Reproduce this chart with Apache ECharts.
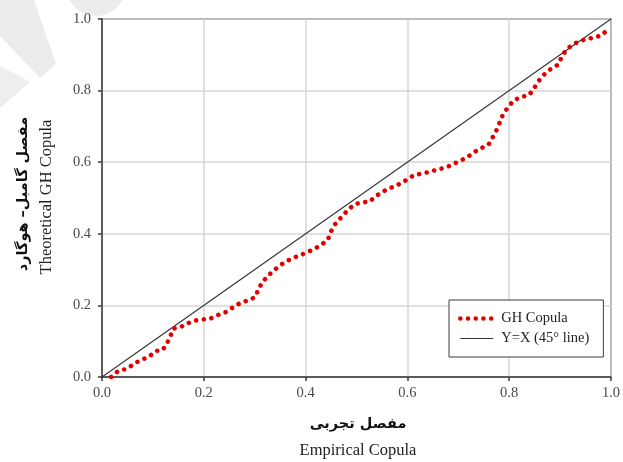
<!DOCTYPE html>
<html>
<head>
<meta charset="utf-8">
<script src="https://cdn.jsdelivr.net/npm/echarts@6/dist/echarts.min.js"></script>
<style>
  html, body { margin: 0; padding: 0; background: #fff; }
  #chart { width: 623px; height: 462px; }
</style>
</head>
<body>
<div id="chart"></div>
<script>
// Empirical copula (x) against theoretical Gumbel-Hougaard copula (y)
const empirical = [
  0.018, 0.032, 0.047, 0.062, 0.076, 0.091, 0.106, 0.119, 0.128, 0.134,
  0.140, 0.155, 0.170, 0.184, 0.199, 0.213, 0.228, 0.243, 0.258, 0.273,
  0.287, 0.301, 0.307, 0.315, 0.328, 0.343, 0.358, 0.372, 0.387, 0.401,
  0.416, 0.430, 0.444, 0.449, 0.457, 0.470, 0.483, 0.497, 0.512, 0.525,
  0.540, 0.555, 0.570, 0.584, 0.598, 0.613, 0.628, 0.643, 0.658, 0.673,
  0.687, 0.702, 0.717, 0.731, 0.746, 0.759, 0.767, 0.775, 0.781, 0.787,
  0.797, 0.809, 0.825, 0.839, 0.848, 0.857, 0.868, 0.883, 0.897, 0.903,
  0.912, 0.925, 0.940, 0.954, 0.969, 0.983, 0.995
];
const theoreticalGH = [
  0.000, 0.017, 0.022, 0.035, 0.048, 0.055, 0.073, 0.075, 0.094, 0.113,
  0.135, 0.140, 0.151, 0.158, 0.161, 0.163, 0.173, 0.181, 0.195, 0.208,
  0.214, 0.223, 0.243, 0.265, 0.285, 0.304, 0.320, 0.330, 0.339, 0.347,
  0.357, 0.368, 0.384, 0.404, 0.425, 0.446, 0.466, 0.483, 0.488, 0.489,
  0.507, 0.520, 0.530, 0.539, 0.550, 0.564, 0.568, 0.573, 0.579, 0.584,
  0.592, 0.603, 0.613, 0.628, 0.640, 0.648, 0.668, 0.689, 0.709, 0.731,
  0.752, 0.773, 0.783, 0.787, 0.804, 0.825, 0.844, 0.862, 0.873, 0.894,
  0.914, 0.929, 0.939, 0.944, 0.949, 0.955, 0.975
];
// 45 degree reference line end points
const refX = [0, 1];
const refY = [0, 1];
const tickValues = [0, 0.2, 0.4, 0.6, 0.8, 1.0];

const seriesNames = ['GH Copula', 'Y=X (45\u00b0 line)'];
const xTitleFa = 'مفصل تجربی';
const xTitleEn = 'Empirical Copula';
const yTitleFa = 'مفصل گامبل– هوگارد';
const yTitleEn = 'Theoretical GH Copula';

const serif = '"Liberation Serif", "Times New Roman", serif';
const farsi = '"DejaVu Sans", sans-serif';

const ghData = empirical.map((x, i) => [x, theoreticalGH[i]]);
const refData = refX.map((x, i) => [x, refY[i]]);

function axisCommon() {
  return {
    type: 'value',
    min: tickValues[0],
    max: tickValues[tickValues.length - 1],
    interval: 0.2,
    axisLine: { show: true, lineStyle: { color: '#3c3c3c', width: 1.5 } },
    axisTick: { show: true, inside: false, length: 4, lineStyle: { color: '#3c3c3c', width: 1.5 } },
    splitLine: { show: true, lineStyle: { color: '#d6d6d6', width: 1.5 } },
    axisLabel: {
      color: '#4a4a4a',
      fontFamily: serif,
      fontSize: 14.5,
      formatter: v => v.toFixed(1)
    }
  };
}

const xAxis = axisCommon();
xAxis.axisLabel.margin = 9;
const yAxis = axisCommon();
yAxis.axisLabel.margin = 11;

const chart = echarts.init(document.getElementById('chart'), null, { renderer: 'canvas' });

chart.setOption({
  backgroundColor: '#ffffff',
  animation: false,
  grid: {
    left: 102, right: 7, top: 19, bottom: 85,
    show: true, borderColor: '#3c3c3c', borderWidth: 1.5,
    backgroundColor: 'transparent'
  },
  xAxis: xAxis,
  yAxis: yAxis,
  legend: {
    orient: 'vertical',
    left: 449, top: 300,
    padding: [11, 14, 11, 9],
    itemGap: 5,
    itemWidth: 33,
    itemHeight: 14,
    borderColor: '#3c3c3c',
    borderWidth: 1,
    backgroundColor: '#ffffff',
    selectedMode: false,
    itemStyle: { opacity: 0 },
    lineStyle: { width: 'inherit' },
    textStyle: { fontFamily: serif, fontSize: 14.5, color: '#222', padding: [0, 0, 0, 3] },
    data: seriesNames
  },
  graphic: [
    // faint watermark shapes in the upper-left corner
    { type: 'polygon', silent: true, z: -10,
      shape: { points: [[0, 0], [34, 0], [56, 64], [40, 78], [0, 36]] },
      style: { fill: '#ececec' } },
    { type: 'polygon', silent: true, z: -10,
      shape: { points: [[0, 66], [30, 82], [0, 108]] },
      style: { fill: '#eeeeee' } },
    { type: 'circle', silent: true, z: -10,
      shape: { cx: 96, cy: -14, r: 30 },
      style: { fill: '#ececec' } },
    // axis titles
    { type: 'text', x: 358, y: 424,
      style: { text: xTitleFa, fontFamily: farsi, fontWeight: 'bold', fontSize: 14.5,
               fill: '#111', align: 'center', verticalAlign: 'middle' } },
    { type: 'text', x: 358, y: 451,
      style: { text: xTitleEn, fontFamily: serif, fontSize: 16.5,
               fill: '#222', align: 'center', verticalAlign: 'middle' } },
    { type: 'text', x: 23, y: 194, rotation: Math.PI / 2,
      style: { text: yTitleFa, fontFamily: farsi, fontWeight: 'bold', fontSize: 14.5,
               fill: '#111', align: 'center', verticalAlign: 'middle' } },
    { type: 'text', x: 47, y: 197, rotation: Math.PI / 2,
      style: { text: yTitleEn, fontFamily: serif, fontSize: 16.5,
               fill: '#222', align: 'center', verticalAlign: 'middle' } }
  ],
  series: [
    {
      name: seriesNames[0],
      type: 'line',
      data: ghData,
      symbol: 'none',
      smooth: false,
      z: 3,
      color: '#e00000',
      lineStyle: { color: '#e00000', width: 4.6, type: [0.01, 7.7], cap: 'round' }
    },
    {
      name: seriesNames[1],
      type: 'line',
      data: refData,
      symbol: 'none',
      z: 2,
      color: '#333333',
      lineStyle: { color: '#333333', width: 1.1 }
    }
  ]
});
</script>
</body>
</html>
